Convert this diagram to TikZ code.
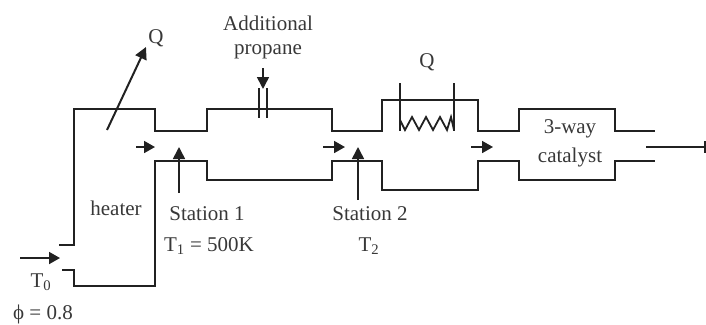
\documentclass[tikz,border=0pt]{standalone}
\usepackage{fontspec}
\setmainfont{Liberation Serif}
\usetikzlibrary{arrows.meta}
\definecolor{ink}{gray}{0.13}
\definecolor{txt}{gray}{0.22}
\tikzset{
  wall/.style={draw=ink,line width=2.3pt,line join=miter},
  flow/.style={draw=ink,line width=1.8pt,-{Triangle[length=11pt,width=12pt]}},
  probe/.style={draw=ink,line width=1.6pt,-{Triangle[length=12pt,width=12pt]}},
  lab/.style={text=txt,font=\fontsize{21}{24}\selectfont,inner sep=0pt,align=center},
}
\begin{document}
\begin{tikzpicture}[x=1pt,y=-1pt]
\useasboundingbox (0,0) rectangle (706,324);
% walls
\draw[wall] (59,245) -- (74,245) -- (74,109) -- (155,109) -- (155,131) -- (207,131) -- (207,109) -- (332,109) -- (332,131) -- (382,131) -- (382,100) -- (478,100) -- (478,131) -- (519,131) -- (519,109) -- (615,109) -- (615,131) -- (655,131);
\draw[wall] (62,270) -- (74,270) -- (74,286) -- (155,286) -- (155,161) -- (207,161) -- (207,180) -- (332,180) -- (332,161) -- (382,161) -- (382,190) -- (478,190) -- (478,161) -- (519,161) -- (519,180) -- (615,180) -- (615,161) -- (655,161);
% heater Q
\coordinate (qs) at (107,130);
\node[lab] (q1) at (156,38) {Q};
\coordinate (qe) at (146,47);
\draw[probe,line width=2pt] (qs) -- (qe);
% propane
\node[lab] (add) at (268,23) {Additional};
\node[lab] (prop) at (268,52) {propane};
\coordinate (ps) at (263,68);
\coordinate (pe) at (263,89);
\draw[probe] (ps) -- (pe);
\draw[wall,line width=1.9pt] (259,88) -- (259,118) (267,88) -- (267,118);
% flow arrows
\coordinate (f0s) at (20,258); \coordinate (f0e) at (60,258);
\coordinate (f1s) at (136,147); \coordinate (f1e) at (155,147);
\coordinate (f2s) at (323,147); \coordinate (f2e) at (345,147);
\coordinate (f3s) at (471,147); \coordinate (f3e) at (493,147);
\draw[flow] (f0s) -- (f0e);
\draw[flow] (f1s) -- (f1e);
\draw[flow] (f2s) -- (f2e);
\draw[flow] (f3s) -- (f3e);
% outlet
\coordinate (os) at (646,147); \coordinate (oe) at (706,147);
\draw[draw=ink,line width=1.7pt] (os) -- (oe);
\draw[draw=ink,line width=2.4pt] (705,141) -- (705,153);
% stations
\coordinate (s1s) at (179,193); \coordinate (s1e) at (179,147);
\coordinate (s2s) at (358,200); \coordinate (s2e) at (358,147);
\draw[probe] (s1s) -- (s1e);
\draw[probe] (s2s) -- (s2e);
% coil
\draw[wall,line width=1.9pt] (400,83) -- (400,131) (454,83) -- (454,131);
\draw[wall,line width=1.8pt] (400,120) -- (405,130) -- (412,117) -- (419,130) -- (426,117) -- (433,130) -- (440,117) -- (447,130) -- (451,117) -- (454,130);
% labels
\node[lab] (q2) at (427,62) {Q};
\node[lab] (heat) at (116,208) {heater};
\node[lab] (st1) at (207,214) {Station 1};
\node[lab] (t1) at (209,246) {T\textsubscript{1} = 500K};
\node[lab] (st2) at (370,214) {Station 2};
\node[lab] (t2) at (369,246) {T\textsubscript{2}};
\node[lab] (t0) at (41,282) {T\textsubscript{0}};
\node[lab] (phi) at (43,314) {ϕ = 0.8};
\node[lab] (w3) at (570,129) {3-way};
\node[lab] (cat) at (570,157) {catalyst};
\end{tikzpicture}
\end{document}
